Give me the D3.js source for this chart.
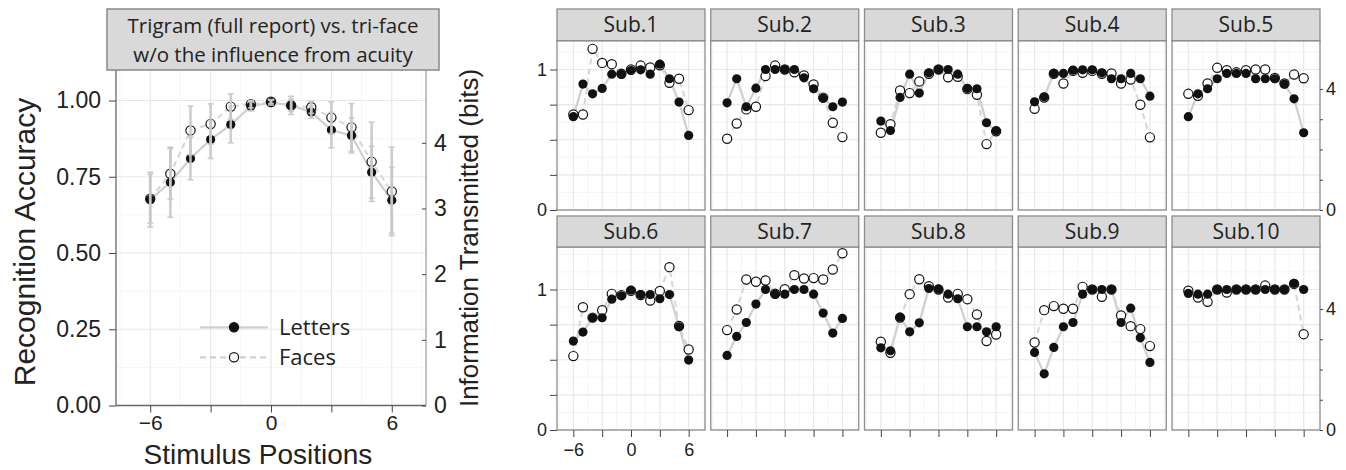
<!DOCTYPE html>
<html>
<head>
<meta charset="utf-8">
<script src="https://cdn.jsdelivr.net/npm/d3@7"></script>
<style>
  body { margin: 0; background: #fff; }
  svg { display: block; }
  .ax text { font-family: "Liberation Sans", Arial, sans-serif; fill: #222; }
  .ax line { stroke: #444; }
  .ax path { display: none; }
</style>
</head>
<body>
<svg id="chart" width="1346" height="470"></svg>
<script>
// ---- data ----
const positions = [-6, -5, -4, -3, -2, -1, 0, 1, 2, 3, 4, 5, 6];

// group means, left panel
const letterMean = [0.675, 0.732, 0.81, 0.872, 0.921, 0.981, 0.993, 0.984, 0.962, 0.903, 0.885, 0.765, 0.673];
const faceMean   = [0.678, 0.760, 0.902, 0.923, 0.980, 0.988, 0.996, 0.984, 0.978, 0.944, 0.912, 0.799, 0.702];
const letterErr  = [0.09, 0.115, 0.07, 0.062, 0.06, 0.015, 0.008, 0.03, 0.02, 0.058, 0.057, 0.085, 0.108];
const faceErr    = [0.08, 0.083, 0.08, 0.066, 0.042, 0.012, 0.006, 0.02, 0.02, 0.052, 0.078, 0.13, 0.145];

const subjects = ['Sub.1', 'Sub.2', 'Sub.3', 'Sub.4', 'Sub.5', 'Sub.6', 'Sub.7', 'Sub.8', 'Sub.9', 'Sub.10'];

const subLetters = [
  [0.664, 0.896, 0.827, 0.865, 0.967, 0.967, 0.993, 0.998, 0.967, 1.038, 0.934, 0.768, 0.531],
  [0.763, 0.934, 0.735, 0.867, 1.0, 1.0, 1.0, 1.0, 0.941, 0.863, 0.796, 0.735, 0.768],
  [0.633, 0.566, 0.801, 0.967, 0.832, 0.976, 1.0, 1.0, 0.967, 0.865, 0.863, 0.621, 0.564],
  [0.770, 0.806, 0.972, 0.972, 0.995, 0.998, 0.998, 0.976, 0.934, 0.934, 0.972, 0.934, 0.810],
  [0.664, 0.827, 0.863, 0.934, 0.972, 0.972, 0.972, 0.934, 0.934, 0.934, 0.896, 0.791, 0.550],
  [0.633, 0.697, 0.799, 0.799, 0.931, 0.955, 0.995, 0.964, 0.964, 0.934, 0.964, 0.735, 0.498],
  [0.531, 0.666, 0.765, 0.896, 1.0, 0.967, 0.967, 1.0, 1.0, 0.967, 0.832, 0.690, 0.794],
  [0.585, 0.564, 0.803, 0.699, 0.763, 1.007, 1.002, 0.967, 0.934, 0.735, 0.735, 0.699, 0.735],
  [0.552, 0.40, 0.588, 0.735, 0.765, 0.967, 1.0, 1.0, 1.0, 0.765, 0.867, 0.656, 0.481],
  [0.972, 0.967, 0.967, 1.0, 1.0, 1.0, 1.0, 1.0, 1.0, 1.0, 1.0, 1.043, 1.0]
];

const subFaces = [
  [0.680, 0.680, 1.147, 1.047, 1.038, 0.97, 1.0, 1.028, 1.014, 1.03, 0.905, 0.934, 0.711],
  [0.507, 0.616, 0.716, 0.735, 0.953, 1.028, 1.0, 0.98, 0.957, 0.893, 0.80, 0.621, 0.519],
  [0.55, 0.611, 0.851, 0.832, 0.915, 0.97, 1.0, 0.945, 0.948, 0.86, 0.82, 0.469, 0.56],
  [0.720, 0.80, 0.97, 0.90, 0.99, 0.976, 0.99, 0.97, 0.972, 0.90, 0.929, 0.749, 0.517],
  [0.827, 0.813, 0.90, 1.012, 0.995, 0.98, 0.995, 1.0, 1.0, 0.94, 0.90, 0.964, 0.938],
  [0.526, 0.874, 0.80, 0.853, 0.969, 0.96, 0.99, 0.96, 0.922, 0.99, 1.159, 0.74, 0.573],
  [0.711, 0.858, 1.071, 1.055, 1.064, 0.97, 1.002, 1.102, 1.078, 1.081, 1.071, 1.142, 1.258],
  [0.628, 0.550, 0.80, 0.967, 1.073, 1.024, 1.0, 0.943, 0.969, 0.931, 0.822, 0.633, 0.680],
  [0.623, 0.853, 0.882, 0.863, 0.863, 1.019, 1.0, 0.948, 1.0, 0.815, 0.739, 0.718, 0.597],
  [0.991, 0.943, 0.912, 1.0, 0.979, 1.0, 1.0, 1.0, 1.028, 1.0, 1.0, 1.04, 0.682]
];

const xTicks = [-6, -3, 0, 3, 6];
const xMinor = [-7.5, -4.5, -1.5, 1.5, 4.5, 7.5];
const accTicks = [0, 0.25, 0.5, 0.75, 1];
const accMinor = [0.125, 0.375, 0.625, 0.875, 1.125, 1.25];
const bitTicks = [0, 1, 2, 3, 4];
const BITS_AT_ONE = 4.644; // accuracy 1 == log2(25) bits

// ---- drawing ----
const svg = d3.select('#chart');
const MYRIAD = '"Open Sans", "Noto Sans", sans-serif';
const HELV = '"Liberation Sans", Arial, sans-serif';
const MINUS = '\u2212';

function grid(g, x, y) {
  const [x0, x1] = x.range(), [y0, y1] = y.range();
  const inX = v => v >= x.domain()[0] && v <= x.domain()[1];
  const inY = v => v >= y.domain()[0] && v <= y.domain()[1];
  g.append('rect').attr('x', x0).attr('y', y1).attr('width', x1 - x0).attr('height', y0 - y1).attr('fill', '#fff');
  g.selectAll(null).data(accMinor.filter(inY)).join('line')
    .attr('x1', x0).attr('x2', x1).attr('y1', d => y(d)).attr('y2', d => y(d))
    .attr('stroke', '#f3f3f3').attr('stroke-width', 0.8);
  g.selectAll(null).data(xMinor.filter(inX)).join('line')
    .attr('y1', y0).attr('y2', y1).attr('x1', d => x(d)).attr('x2', d => x(d))
    .attr('stroke', '#f3f3f3').attr('stroke-width', 0.8);
  g.selectAll(null).data(accTicks.filter(inY)).join('line')
    .attr('x1', x0).attr('x2', x1).attr('y1', d => y(d)).attr('y2', d => y(d))
    .attr('stroke', '#e8e8e8').attr('stroke-width', 1.2);
  g.selectAll(null).data(xTicks).join('line')
    .attr('y1', y0).attr('y2', y1).attr('x1', d => x(d)).attr('x2', d => x(d))
    .attr('stroke', '#e8e8e8').attr('stroke-width', 1.2);
}

function series(g, x, y, letters, faces, r) {
  const line = d3.line().x((d, i) => x(positions[i])).y(d => y(d));
  g.append('path').datum(letters).attr('d', line)
    .attr('fill', 'none').attr('stroke', '#cfcfcf').attr('stroke-width', 2.2);
  g.append('path').datum(faces).attr('d', line)
    .attr('fill', 'none').attr('stroke', '#d6d6d6').attr('stroke-width', 2)
    .attr('stroke-dasharray', '6,4');
  g.selectAll(null).data(faces).join('circle')
    .attr('cx', (d, i) => x(positions[i])).attr('cy', d => y(d)).attr('r', r)
    .attr('fill', '#fff').attr('stroke', '#111').attr('stroke-width', 1.2);
  g.selectAll(null).data(letters).join('circle')
    .attr('cx', (d, i) => x(positions[i])).attr('cy', d => y(d)).attr('r', r)
    .attr('fill', '#111');
}

// ---------- left panel ----------
(() => {
  const g = svg.append('g');
  const x = d3.scaleLinear().domain([-7.7, 7.7]).range([116, 426]);
  const y = d3.scaleLinear().domain([0, 1.1]).range([405.5, 70]);
  const yb = d3.scaleLinear().domain([0, 1.1 * BITS_AT_ONE]).range([405.5, 70]);

  grid(g, x, y);
  series(g, x, y, letterMean, faceMean, 4.6);

  // error bars sit on top of the points
  [[letterMean, letterErr], [faceMean, faceErr]].forEach(([m, e]) => {
    const eb = g.append('g').attr('stroke', '#c8c8c8').attr('stroke-width', 2.6).attr('opacity', 0.9);
    m.forEach((v, i) => {
      const cx = x(positions[i]);
      eb.append('line').attr('x1', cx).attr('x2', cx).attr('y1', y(v - e[i])).attr('y2', y(v + e[i]));
      [v - e[i], v + e[i]].forEach(t => eb.append('line')
        .attr('x1', cx - 3).attr('x2', cx + 3).attr('y1', y(t)).attr('y2', y(t)).attr('stroke-width', 1.6));
    });
  });

  // borders
  g.append('line').attr('x1', 116).attr('x2', 116).attr('y1', 70).attr('y2', 405.5).attr('stroke', '#666').attr('stroke-width', 1.3);
  g.append('line').attr('x1', 116).attr('x2', 426).attr('y1', 405.5).attr('y2', 405.5).attr('stroke', '#666').attr('stroke-width', 1.3);
  g.append('line').attr('x1', 426).attr('x2', 426).attr('y1', 70).attr('y2', 405.5).attr('stroke', '#999').attr('stroke-width', 1.2);

  const ay = g.append('g').attr('class', 'ax').attr('transform', 'translate(116,0)')
    .call(d3.axisLeft(y).tickValues(accTicks).tickFormat(d3.format('.2f')).tickSize(7).tickPadding(8));
  ay.selectAll('text').attr('font-size', 23);
  const ax = g.append('g').attr('class', 'ax').attr('transform', 'translate(0,405.5)')
    .call(d3.axisBottom(x).tickValues(xTicks).tickSize(7).tickPadding(3)
      .tickFormat(d => d === 0 ? '0' : Math.abs(d) === 6 ? (d < 0 ? MINUS + '6' : '6') : ''));
  ax.selectAll('text').attr('font-size', 21);
  const ar = g.append('g').attr('class', 'ax').attr('transform', 'translate(426,0)')
    .call(d3.axisRight(yb).tickValues(bitTicks).tickFormat(d3.format('d')).tickSize(-4).tickPadding(8));
  ar.selectAll('text').attr('font-size', 23);

  // title strip
  g.append('rect').attr('x', 107).attr('y', 9).attr('width', 332).attr('height', 61)
    .attr('fill', '#d9d9d9').attr('stroke', '#888').attr('stroke-width', 1.5);
  ['Trigram (full report) vs. tri-face', 'w/o the influence from acuity'].forEach((t, i) =>
    g.append('text').attr('x', 273).attr('y', 33 + i * 29).attr('text-anchor', 'middle')
      .attr('font-family', MYRIAD).attr('font-size', 20.5).attr('fill', '#222').text(t));

  // axis titles
  g.append('text').attr('transform', 'translate(35,242) rotate(-90)').attr('text-anchor', 'middle')
    .attr('font-family', HELV).attr('font-size', 30).attr('fill', '#222').text('Recognition Accuracy');
  g.append('text').attr('x', 258).attr('y', 463.5).attr('text-anchor', 'middle')
    .attr('font-family', HELV).attr('font-size', 28).attr('fill', '#222').text('Stimulus Positions');
  g.append('text').attr('transform', 'translate(478,238) rotate(-90)').attr('text-anchor', 'middle')
    .attr('font-family', HELV).attr('font-size', 26).attr('fill', '#222').text('Information Transmitted (bits)');

  // legend
  const lg = g.append('g');
  [['Letters', 327.3, null, '#111'], ['Faces', 357.3, '6,4', '#fff']].forEach(([name, ly, dash, fill]) => {
    lg.append('line').attr('x1', 200).attr('x2', 268).attr('y1', ly).attr('y2', ly)
      .attr('stroke', '#d0d0d0').attr('stroke-width', 2.2).attr('stroke-dasharray', dash);
    lg.append('circle').attr('cx', 234).attr('cy', ly).attr('r', 4.6).attr('fill', fill)
      .attr('stroke', '#111').attr('stroke-width', 1.2);
    lg.append('text').attr('x', 279).attr('y', ly + 8).attr('font-family', MYRIAD)
      .attr('font-size', 22).attr('fill', '#222').text(name);
  });
})();

// ---------- per-subject facets ----------
const colLeft = [557, 710.75, 864.5, 1018.25, 1172];
const PW = 148;
const rows = [
  { stripTop: 9, top: 40.7, bottom: 210 },
  { stripTop: 216, top: 247, bottom: 430 }
];
const PX_PER_ACC = 140.5;

subjects.forEach((name, i) => {
  const col = i % 5, row = rows[Math.floor(i / 5)];
  const left = colLeft[col];
  const g = svg.append('g');
  const x = d3.scaleLinear().domain([-7.7, 7.7]).range([left, left + PW]);
  const yTop = (row.bottom - row.top) / PX_PER_ACC;
  const y = d3.scaleLinear().domain([0, yTop]).range([row.bottom, row.top]);
  const yb = d3.scaleLinear().domain([0, yTop * BITS_AT_ONE]).range([row.bottom, row.top]);

  grid(g, x, y);
  series(g, x, y, subLetters[i], subFaces[i], 4.6);

  g.append('rect').attr('x', left).attr('y', row.top).attr('width', PW).attr('height', row.bottom - row.top)
    .attr('fill', 'none').attr('stroke', '#8c8c8c').attr('stroke-width', 1.3);
  g.append('rect').attr('x', left).attr('y', row.stripTop).attr('width', PW).attr('height', row.top - row.stripTop)
    .attr('fill', '#d9d9d9').attr('stroke', '#8c8c8c').attr('stroke-width', 1.3);
  g.append('text').attr('x', left + PW / 2).attr('y', row.stripTop + 23).attr('text-anchor', 'middle')
    .attr('font-family', MYRIAD).attr('font-size', 21).attr('fill', '#222').text(name);

  if (col === 0) {
    const a = g.append('g').attr('class', 'ax').attr('transform', `translate(${left},0)`)
      .call(d3.axisLeft(y).tickValues(accTicks).tickSize(7).tickPadding(3)
        .tickFormat(d => d === 0 ? '0' : d === 1 ? '1' : ''));
    a.selectAll('text').attr('font-size', 18);
  }
  if (col === 4) {
    const a = g.append('g').attr('class', 'ax').attr('transform', `translate(${left + PW},0)`)
      .call(d3.axisRight(yb).tickValues(bitTicks).tickSize(3).tickPadding(3)
        .tickFormat(d => d === 0 ? '0' : d === 4 ? '4' : ''));
    a.selectAll('text').attr('font-size', 18);
  }
  if (row === rows[1]) {
    const a = g.append('g').attr('class', 'ax').attr('transform', `translate(0,${row.bottom})`)
      .call(d3.axisBottom(x).tickValues(xTicks).tickSize(7).tickPadding(6)
        .tickFormat(d => i !== 5 ? '' : d === 0 ? '0' : d === -6 ? MINUS + '6' : d === 6 ? '6' : ''));
    a.selectAll('text').attr('font-size', 18);
  }
});
</script>
</body>
</html>
